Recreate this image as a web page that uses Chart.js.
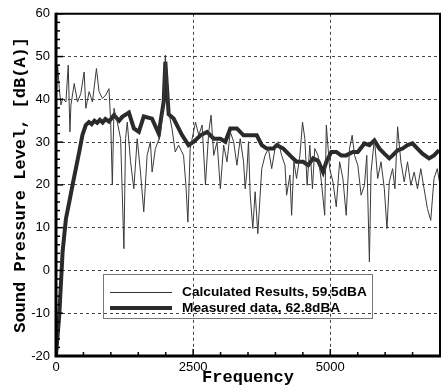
<!DOCTYPE html>
<html>
<head>
<meta charset="utf-8">
<script src="https://cdn.jsdelivr.net/npm/chart.js@4.4.1/dist/chart.umd.min.js"></script>
<style>
  html, body { margin: 0; padding: 0; background: #fff; }
  #wrap { position: relative; width: 444px; height: 388px; }
  canvas { display: block; }
  #legend { position: absolute; left: 103px; top: 274px; width: 268px; height: 43px;
    border: 1px solid #777; font: bold 13.7px "Liberation Sans", Arial, sans-serif; color: #000; }
  .row { position: absolute; left: 0; height: 16px; line-height: 16px; }
  .sample { position: absolute; left: 6px; width: 62px; }
  .txt { position: absolute; left: 78px; white-space: nowrap; }
</style>
</head>
<body>
<div id="wrap">
  <canvas id="c" width="444" height="388"></canvas>
  <div id="legend">
    <div class="row" style="top:9px;"><div class="sample" style="top:8px;border-top:1px solid #333;"></div><span class="txt" id="l0"></span></div>
    <div class="row" style="top:25px;"><div class="sample" style="top:6px;border-top:4px solid #2a2a2a;"></div><span class="txt" id="l1"></span></div>
  </div>
</div>
<script>
// ---- data ----
const seriesNames = ["Calculated Results, 59.5dBA", "Measured data, 62.8dBA"];

const measuredFreq = [0, 60, 120, 181, 242, 302, 362, 423, 483, 543, 600, 650, 700, 750, 800, 850, 900, 966,
  1057, 1150, 1208, 1329, 1420, 1510, 1600, 1750, 1872, 1963, 1993, 2054, 2144, 2295, 2416,
  2513, 2634, 2754, 2875, 2996, 3087, 3177, 3298, 3419, 3540, 3660, 3751, 3842, 3962, 4023, 4144,
  4264, 4385, 4506, 4597, 4687, 4780, 4868, 4928, 5019, 5109, 5200, 5290, 5411, 5502, 5623, 5713,
  5804, 5895, 5985, 6076, 6136, 6227, 6317, 6408, 6499, 6589, 6680, 6801, 6891, 6982];
const measuredLevel = [-19.8, -10.4, 4.3, 12.1, 16.0, 20.0, 23.8, 27.7, 31.7, 34.0, 34.7, 34.2, 35.0, 34.5, 35.2, 34.6, 35.4, 34.8,
  36.3, 35.0, 35.9, 36.9, 33.2, 32.4, 36.0, 35.5, 32.0, 39.4, 48.8, 36.5, 35.5, 31.7, 29.3,
  30.1, 31.6, 32.4, 30.8, 30.8, 30.1, 33.2, 33.2, 31.6, 31.6, 31.6, 29.3, 28.5, 28.5, 29.3, 28.5,
  26.9, 25.4, 25.4, 24.6, 26.2, 25.6, 23.0, 25.4, 27.7, 27.7, 26.9, 26.9, 27.7, 27.7, 29.7, 29.3,
  30.4, 28.5, 27.3, 26.2, 26.9, 28.1, 28.5, 29.3, 29.7, 28.5, 27.3, 26.2, 26.9, 28.1];

const calcFreq = [0, 30, 60, 91, 121, 181, 223, 254, 272, 332, 393, 453, 513, 544, 604, 664, 737, 785, 846, 906, 966,
  997, 1027, 1057, 1117, 1178, 1238, 1268, 1299, 1359, 1419, 1480, 1540, 1600, 1661, 1721, 1752, 1812, 1903,
  1963, 1993, 2054, 2114, 2174, 2235, 2325, 2368, 2404, 2446,
  2543, 2603, 2664, 2724, 2784, 2827, 2875, 2936, 2996, 3056, 3117, 3177, 3238, 3298, 3358, 3419, 3449, 3479,
  3509, 3540, 3588, 3630, 3679, 3721, 3751, 3811, 3872, 3932, 3993, 4053, 4113, 4174, 4204, 4264, 4295, 4337,
  4385, 4446, 4494, 4536, 4578, 4627, 4675, 4717, 4777, 4808,
  4838, 4898, 4928, 4989, 5049, 5109, 5170, 5230, 5290, 5351, 5399, 5442, 5502, 5562, 5623, 5665, 5713, 5743,
  5804, 5864, 5925, 5985, 6033, 6076, 6136, 6178, 6227, 6287, 6348, 6408, 6468, 6529, 6589, 6650, 6710, 6770,
  6831, 6891, 6951, 7000];
const calcLevel = [39.4, 48.0, 42.5, 38.7, 40.2, 39.4, 48.0, 32.4, 38.6, 43.7, 39.4, 41.4, 46.4, 37.9, 41.8, 39.4, 47.2, 41.8, 40.2, 41.0, 42.5,
  34.7, 20.0, 37.9, 34.7, 30.8, 5.1, 30.8, 34.7, 25.4, 19.1, 30.8, 23.0, 13.7, 26.9, 30.1, 23.0, 28.5, 31.6,
  39.4, 50.3, 37.1, 33.2, 27.7, 29.3, 26.9, 20.0, 11.3, 28.5,
  34.7, 31.6, 34.0, 20.0, 32.4, 36.3, 26.9, 30.1, 19.1, 29.3, 25.4, 32.4, 30.1, 24.6, 30.8, 25.4, 19.1, 23.0,
  30.1, 17.6, 9.8, 18.4, 8.6, 17.6, 23.8, 26.9, 28.5, 23.8, 28.5, 30.1, 26.9, 24.6, 17.6, 22.3, 12.9, 25.4,
  21.5, 26.9, 34.7, 30.8, 19.9, 29.3, 19.1, 28.5, 26.9, 23.8,
  20.7, 12.9, 34.0, 23.8, 20.7, 14.9, 25.4, 21.5, 12.9, 28.5, 31.6, 26.9, 24.6, 17.6, 19.9, 26.9, 2.0, 23.0,
  30.8, 21.5, 25.4, 19.1, 9.8, 20.7, 23.8, 19.1, 33.6, 25.4, 20.7, 25.4, 19.9, 23.0, 19.1, 23.8, 19.1, 14.5,
  11.7, 21.5, 23.8, 19.9];

const xTickLabels = [0, 2500, 5000];
const yTickLabels = [-20, -10, 0, 10, 20, 30, 40, 50, 60];
const xTitle = "Frequency";
const yTitle = "Sound Pressure Level, [dB(A)]";

// ---- chart ----
document.getElementById('l0').textContent = seriesNames[0];
document.getElementById('l1').textContent = seriesNames[1];

const toPts = (xs, ys) => xs.map((x, i) => ({x: x, y: ys[i]}));

const frameTicks = {
  id: 'frameTicks',
  afterDraw(chart) {
    const {ctx, chartArea: a, scales: {x, y}} = chart;
    ctx.save();
    ctx.strokeStyle = '#000';
    ctx.lineWidth = 1.5;
    y.ticks.forEach(t => {
      const py = y.getPixelForValue(t.value);
      const len = (t.value % 10 === 0) ? 7 : 4;
      ctx.beginPath(); ctx.moveTo(a.left, py); ctx.lineTo(a.left + len, py); ctx.stroke();
    });
    x.ticks.forEach(t => {
      const px = x.getPixelForValue(t.value);
      const len = (t.value % 2500 === 0) ? 7 : 4;
      ctx.beginPath(); ctx.moveTo(px, a.bottom); ctx.lineTo(px, a.bottom - len); ctx.stroke();
    });
    ctx.lineWidth = 2;
    ctx.beginPath(); ctx.moveTo(a.left, a.top); ctx.lineTo(a.right, a.top); ctx.lineTo(a.right, a.bottom); ctx.stroke();
    ctx.lineWidth = 3;
    ctx.beginPath(); ctx.moveTo(a.left, a.top - 1); ctx.lineTo(a.left, a.bottom); ctx.lineTo(a.right + 1, a.bottom); ctx.stroke();
    ctx.restore();
  }
};

new Chart(document.getElementById('c'), {
  type: 'line',
  data: {
    datasets: [
      { label: seriesNames[0], data: toPts(calcFreq, calcLevel), borderColor: '#3a3a3a', borderWidth: 1,
        pointRadius: 0, tension: 0, fill: false, order: 0 },
      { label: seriesNames[1], data: toPts(measuredFreq, measuredLevel), borderColor: '#2a2a2a', borderWidth: 4,
        pointRadius: 0, tension: 0, fill: false, order: 1 }
    ]
  },
  options: {
    responsive: false,
    animation: false,
    layout: { padding: { top: 12, right: 1, left: 0, bottom: 0 } },
    plugins: { legend: { display: false }, tooltip: { enabled: false } },
    scales: {
      x: {
        type: 'linear', min: 0, max: 7000,
        afterFit: s => { s.height = 32; },
        ticks: {
          stepSize: 500, autoSkip: false, maxRotation: 0, padding: 4, color: '#000',
          font: { family: '"Liberation Sans", Arial, sans-serif', size: 13 },
          callback: v => xTickLabels.includes(v) ? String(v) : ''
        },
        grid: { drawTicks: false, lineWidth: 1,
          color: c => (c.tick && c.tick.value % 2500 === 0 && c.tick.value > 0) ? '#444' : 'rgba(0,0,0,0)' },
        border: { display: false, dash: [3, 3] },
        title: { display: true, text: xTitle, color: '#000', padding: { top: 0, bottom: 0 },
          font: { family: '"Liberation Mono", "Courier New", monospace', size: 17, weight: 'bold' } }
      },
      y: {
        type: 'linear', min: -20, max: 60,
        afterFit: s => { s.width = 56; },
        ticks: {
          stepSize: 2, autoSkip: false, padding: 6, color: '#000',
          font: { family: '"Liberation Sans", Arial, sans-serif', size: 13 },
          callback: v => yTickLabels.includes(v) ? String(v) : ''
        },
        grid: { drawTicks: false, lineWidth: 1,
          color: c => (c.tick && c.tick.value % 10 === 0 && c.tick.value > -20 && c.tick.value < 60) ? '#444' : 'rgba(0,0,0,0)' },
        border: { display: false, dash: [3, 3] },
        title: { display: true, text: yTitle, color: '#000', padding: { top: 11, bottom: 0 },
          font: { family: '"Liberation Mono", "Courier New", monospace', size: 17, weight: 'bold' } }
      }
    }
  },
  plugins: [frameTicks]
});
</script>
</body>
</html>
